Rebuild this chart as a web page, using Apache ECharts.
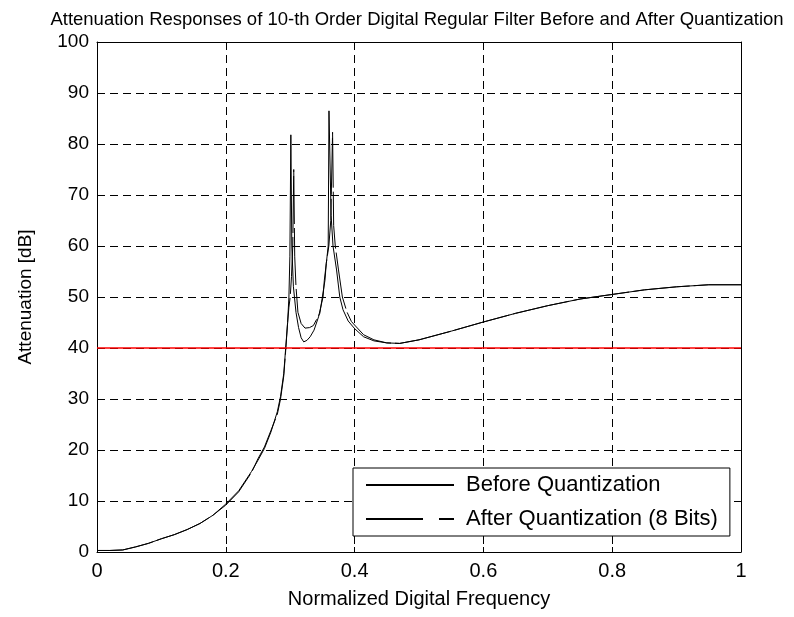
<!DOCTYPE html>
<html>
<head>
<meta charset="utf-8">
<script src="https://cdn.jsdelivr.net/npm/echarts@6/dist/echarts.min.js"></script>
<style>
  html, body { margin: 0; padding: 0; background: #fff; }
  #chart { width: 794px; height: 617px; }
</style>
</head>
<body>
<div id="chart"></div>
<script>
// Attenuation (dB) versus normalized digital frequency
const freqBefore = [0, 0.02, 0.04, 0.06, 0.08, 0.10, 0.12, 0.14, 0.16, 0.18, 0.20, 0.22, 0.24, 0.25, 0.26, 0.27, 0.28, 0.285, 0.29, 0.293, 0.296, 0.298, 0.2995, 0.301, 0.3025, 0.305, 0.309, 0.313, 0.317, 0.321, 0.326, 0.331, 0.337, 0.344, 0.351, 0.353, 0.356, 0.359, 0.3602, 0.3635, 0.3665, 0.372, 0.377, 0.382, 0.39, 0.40, 0.414, 0.43, 0.45, 0.47, 0.50, 0.55, 0.60, 0.65, 0.70, 0.75, 0.80, 0.85, 0.90, 0.95, 1.0];
const attBefore = [0.3, 0.3, 0.4, 1.0, 1.7, 2.6, 3.4, 4.4, 5.6, 7.2, 9.4, 12.0, 15.8, 18.0, 20.3, 23.5, 27.5, 30.5, 35.0, 40.0, 45.0, 50.0, 58.0, 81.8, 60.0, 52.0, 47.0, 44.0, 42.0, 41.2, 41.5, 42.2, 43.5, 46.1, 50.0, 53.3, 56.5, 60.0, 86.5, 66.0, 60.0, 55.3, 50.0, 47.5, 45.3, 43.8, 42.2, 41.4, 41.0, 40.9, 41.6, 43.3, 45.1, 46.8, 48.3, 49.6, 50.5, 51.4, 52.0, 52.4, 52.4];

const freqAfter = [0, 0.02, 0.04, 0.06, 0.08, 0.10, 0.12, 0.14, 0.16, 0.18, 0.20, 0.22, 0.24, 0.25, 0.26, 0.27, 0.28, 0.285, 0.29, 0.293, 0.296, 0.298, 0.300, 0.302, 0.304, 0.3055, 0.307, 0.309, 0.312, 0.317, 0.323, 0.330, 0.336, 0.346, 0.354, 0.356, 0.360, 0.363, 0.3658, 0.3675, 0.370, 0.375, 0.381, 0.388, 0.395, 0.40, 0.414, 0.43, 0.45, 0.47, 0.50, 0.55, 0.60, 0.65, 0.70, 0.75, 0.80, 0.85, 0.90, 0.95, 1.0];
const attAfter = [0.3, 0.3, 0.4, 1.0, 1.7, 2.6, 3.4, 4.4, 5.6, 7.2, 9.2, 11.8, 15.6, 18.3, 20.6, 23.8, 27.0, 30.0, 34.5, 39.5, 45.0, 48.0, 50.0, 54.0, 60.0, 75.0, 58.0, 52.0, 47.0, 44.8, 43.9, 44.0, 44.4, 46.8, 53.3, 56.6, 60.0, 65.0, 82.3, 64.0, 60.0, 55.3, 50.0, 47.1, 45.2, 44.5, 42.6, 41.6, 41.0, 40.9, 41.6, 43.3, 45.1, 46.8, 48.3, 49.6, 50.5, 51.4, 52.0, 52.4, 52.4];

// Specification limit
const specFreq = [0, 1];
const specAtt = [40, 40];

const seriesNames = ['Before Quantization', 'After Quantization (8 Bits)'];

const pairs = (xs, ys) => xs.map((x, i) => [x, ys[i]]);

const FONT = '"Liberation Sans", Arial, sans-serif';
const chart = echarts.init(document.getElementById('chart'), null, { renderer: 'canvas' });

const gridLine = { show: true, lineStyle: { color: '#000', width: 1, type: [8, 5] } };
const tickIn = { show: true, inside: true, length: 5, lineStyle: { color: '#000' } };
const boxLine = { show: true, onZero: false, lineStyle: { color: '#000', width: 1 } };

chart.setOption({
  animation: false,
  backgroundColor: '#fff',
  title: {
    text: 'Attenuation Responses of 10-th Order Digital Regular Filter Before and After Quantization',
    left: 412, top: 5, textAlign: 'center',
    textStyle: { fontFamily: FONT, fontSize: 18.5, fontWeight: 'normal', color: '#000' }
  },
  grid: { left: 97, right: 53, top: 42, bottom: 65 },
  legend: {
    data: [
      { name: seriesNames[0] },
      { name: seriesNames[1], lineStyle: { type: [57, 16] } }
    ],
    orient: 'vertical',
    left: 353, top: 468,
    padding: [6, 12, 6, 12],
    itemWidth: 88, itemHeight: 24, itemGap: 12,
    itemStyle: { opacity: 0 },
    backgroundColor: '#fff',
    borderColor: '#000', borderWidth: 1,
    textStyle: { fontFamily: FONT, fontSize: 22, color: '#000', padding: [0, 0, 0, 7] }
  },
  xAxis: [{
    type: 'value', min: 0, max: 1, interval: 0.2,
    name: 'Normalized Digital Frequency', nameLocation: 'middle', nameGap: 37,
    nameTextStyle: { fontFamily: FONT, fontSize: 20, color: '#000' },
    axisLine: boxLine,
    axisTick: tickIn,
    axisLabel: { fontFamily: FONT, fontSize: 20, color: '#000', margin: 9 },
    splitLine: gridLine
  }, {
    type: 'value', min: 0, max: 1, interval: 0.2, position: 'top',
    axisLine: boxLine, axisTick: tickIn, axisLabel: { show: false }, splitLine: { show: false }
  }],
  yAxis: [{
    type: 'value', min: 0, max: 100, interval: 10,
    name: 'Attenuation [dB]', nameLocation: 'middle', nameGap: 62,
    nameTextStyle: { fontFamily: FONT, fontSize: 19, color: '#000' },
    axisLine: boxLine,
    axisTick: tickIn,
    axisLabel: { fontFamily: FONT, fontSize: 19, color: '#000', margin: 8 },
    splitLine: gridLine
  }, {
    type: 'value', min: 0, max: 100, interval: 10, position: 'right',
    axisLine: boxLine, axisTick: tickIn, axisLabel: { show: false }, splitLine: { show: false }
  }],
  series: [{
    name: seriesNames[0], type: 'line', data: pairs(freqBefore, attBefore),
    symbol: 'none', color: '#000',
    lineStyle: { color: '#000', width: 1 }
  }, {
    name: seriesNames[1], type: 'line', data: pairs(freqAfter, attAfter),
    symbol: 'none', color: '#000',
    lineStyle: { color: '#000', width: 1, type: [57, 4] }
  }, {
    name: 'Limit', type: 'line', data: pairs(specFreq, specAtt),
    symbol: 'none', silent: true, color: '#f00',
    lineStyle: { color: '#f00', width: 1.3 }
  }]
});
</script>
</body>
</html>
